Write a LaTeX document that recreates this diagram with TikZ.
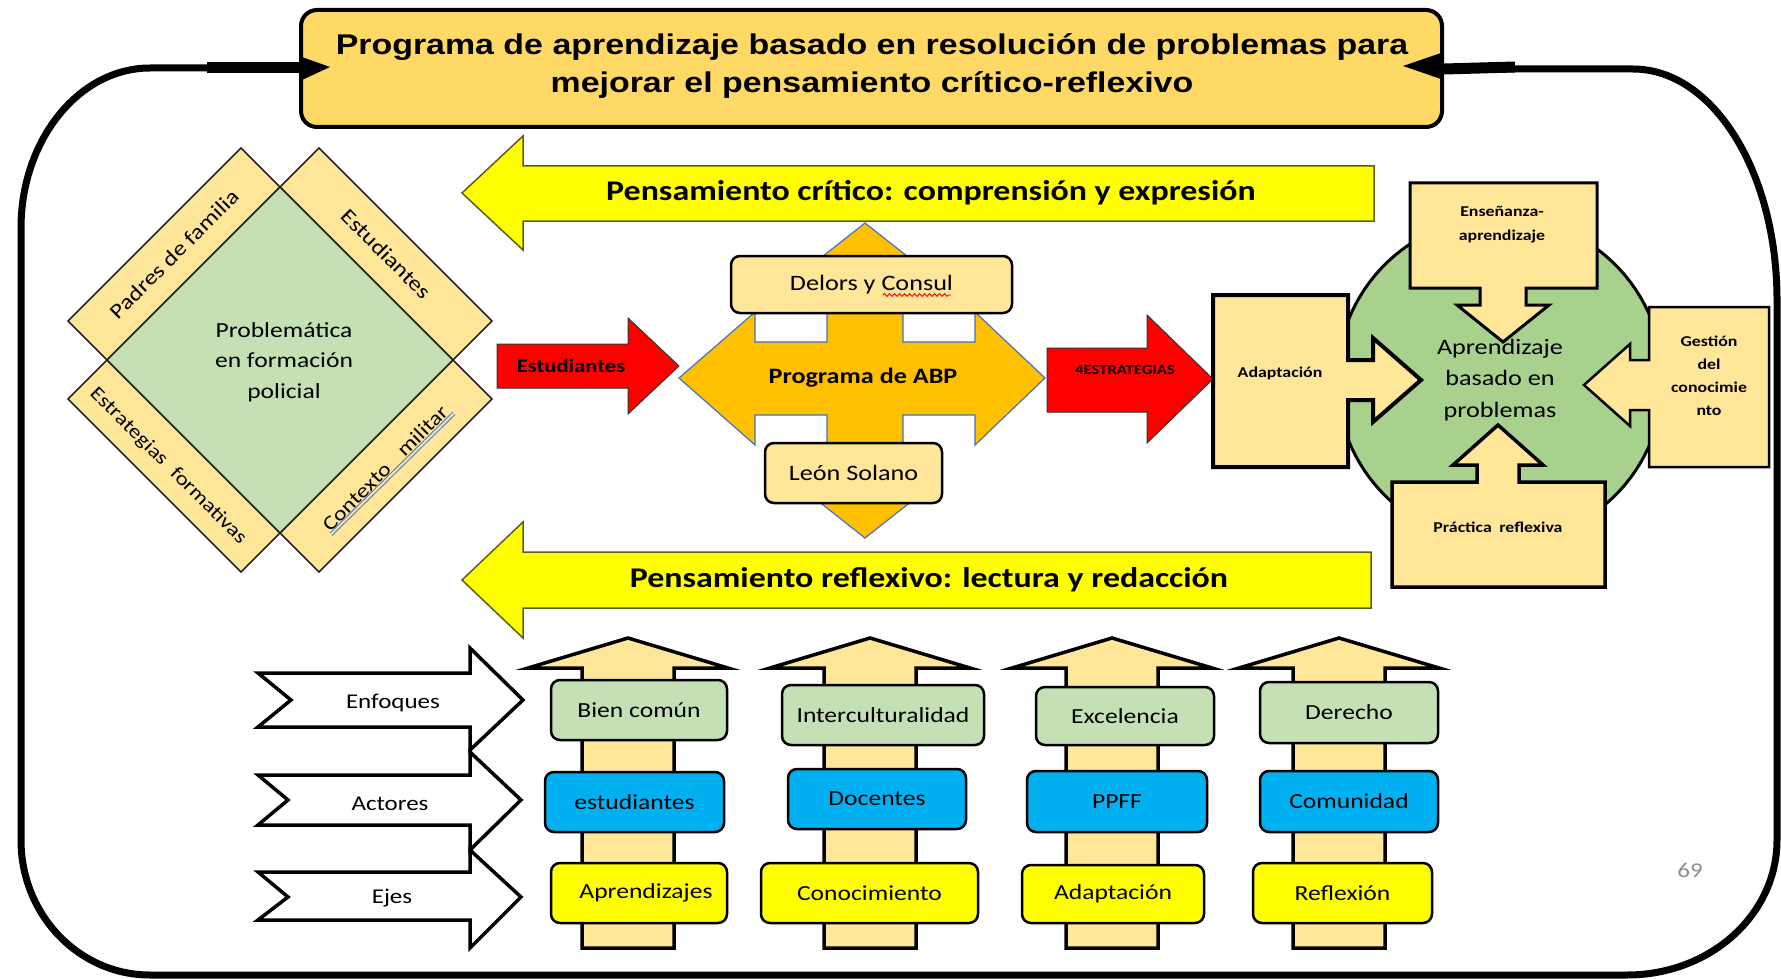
\documentclass[tikz,border=0pt]{standalone}
\usepackage{fontspec}
\setmainfont{Carlito}[FakeStretch=1.19]
\newfontfamily\titlefont{Liberation Sans}[FakeStretch=1.19]
\usetikzlibrary{decorations.pathmorphing}
\definecolor{titlefill}{HTML}{FFD966}
\definecolor{tanf}{HTML}{FFE699}
\definecolor{lgreen}{HTML}{C5E0B4}
\definecolor{mgreen}{HTML}{A9D18E}
\definecolor{cyanb}{HTML}{00B0F0}
\definecolor{yel}{HTML}{FFFF00}
\definecolor{orng}{HTML}{FFC000}
\definecolor{redd}{HTML}{FF0000}
\definecolor{olivec}{HTML}{5E5E1A}
\definecolor{quadblue}{HTML}{4472C4}
\definecolor{spellblue}{HTML}{5B7FD0}
\begin{document}
\begin{tikzpicture}[x=1pt,y=-1pt,line join=miter,
  lbl/.style={inner sep=0pt,outer sep=0pt,align=center,text=black},
  frameline/.style={draw=black,line width=7pt},
  stripshape/.style={fill=tanf,draw=black!85,line width=1.5pt},
  yarrow/.style={fill=yel,draw=olivec,line width=1.5pt},
  rarrow/.style={fill=redd,draw=black!80,line width=1pt},
  callout/.style={fill=tanf,draw=black,line width=3pt},
  uparrow/.style={fill=tanf,draw=black,line width=3.5pt},
  notched/.style={fill=white,draw=black,line width=3.5pt},
  rbox/.style={draw=black,line width=2.5pt,rounded corners=9pt,inner sep=0pt,align=center,font=\fontsize{21.5}{26}\selectfont},
  tbox/.style={rbox,fill=tanf,font=\fontsize{22}{26}\selectfont},
  small/.style={lbl,font=\bfseries\fontsize{15}{23}\selectfont},
]
\useasboundingbox (0,0) rectangle (1781,979);

% ---------- title ----------
\node[draw=black,line width=4pt,fill=titlefill,rounded corners=16pt,minimum width=1141pt,minimum height=117pt,inner sep=0pt] (title) at (871.5,68.5) {};
\node[lbl,anchor=base,font=\titlefont\bfseries\fontsize{28.5}{34}\selectfont] (title1) at (872,55) {Programa de aprendizaje basado en resolución de problemas para};
\node[lbl,anchor=base,font=\titlefont\bfseries\fontsize{28.5}{34}\selectfont] (title2) at (872,93) {mejorar el pensamiento crítico-reflexivo};

% ---------- outer frame (connector from title back to title) ----------
\coordinate (fl) at (title.west |- 0,68);
\coordinate (fr) at (title.east |- 0,69);
\coordinate (fls) at (207,68);
\coordinate (frs) at (1515,67);
\draw[frameline] (fl) -- (150,68) .. controls (79,68) and (21,140) .. (21,228) -- (21,840)
  .. controls (21,915) and (79,975) .. (150,975) -- (1627,975)
  .. controls (1710,975) and (1777,915) .. (1777,840) -- (1777,300)
  .. controls (1777,172) and (1713,69) .. (1633,69) -- (fr);
\draw[line width=11pt] (fls) -- (fl);
\draw[line width=11pt] (frs) -- (fr);
\fill[black] (fl) ++(0,-12) -- (330,67) -- (302,80) -- cycle;
\fill[black] (1441,53) -- (1403,66) -- (1441,79) -- cycle;

% ---------- diamond ----------
\draw[stripshape] (280,187) -- (107,360) -- (68,321) -- (241,148) -- cycle;
\draw[stripshape] (280,187) -- (453,360) -- (492,321) -- (319,148) -- cycle;
\draw[stripshape] (107,360) -- (280,533) -- (241,572) -- (68,399) -- cycle;
\draw[stripshape] (453,360) -- (280,533) -- (319,572) -- (492,399) -- cycle;
\draw[fill=lgreen,draw=black!85,line width=1.5pt] (280,187) -- (453,360) -- (280,533) -- (107,360) -- cycle;
\node[lbl,font=\fontsize{21.5}{30.5}\selectfont] (prob) at (284,362) {Problemática\\en formación\\policial};
\node[lbl,rotate=45,font=\fontsize{21}{25}\selectfont] (padres) at (174,254) {Padres de familia};
\node[lbl,rotate=-45,font=\fontsize{21}{25}\selectfont] (estud) at (386,254) {Estudiantes};
\node[lbl,rotate=-45,font=\fontsize{19.5}{25}\selectfont] (estrat) at (168,466) {Estrategias\hspace{0.6em}formativas};
\node[lbl,rotate=45,font=\fontsize{20}{25}\selectfont] (contexto) at (385,468) {Contexto\hspace{0.9em}militar};
\draw[spellblue,line width=1pt] (330,533) -- (453,412);
\draw[spellblue,line width=1pt] (332,535.5) -- (455,414.5);

% ---------- yellow arrows ----------
\draw[yarrow] (1374,166) -- (523,166) -- (523,136) -- (462,193) -- (523,250) -- (523,221) -- (1374,221) -- cycle;
\node[lbl,font=\bfseries\fontsize{28.5}{34}\selectfont] (ycrit) at (931,193) {Pensamiento crítico: comprensión y expresión};
\draw[yarrow] (1371,552) -- (523,552) -- (523,522) -- (462,580) -- (523,638) -- (523,608) -- (1371,608) -- cycle;
\node[lbl,font=\bfseries\fontsize{28.5}{34}\selectfont] (yrefl) at (929,580) {Pensamiento reflexivo: lectura y redacción};

% ---------- quad arrow ----------
\draw[fill=orng,draw=quadblue,line width=1.2pt]
 (865,223) -- (931,275) -- (903,275) -- (903,342) -- (975,342) -- (975,312) -- (1045,378)
 -- (975,445) -- (975,415) -- (903,415) -- (903,486) -- (931,486) -- (865,538)
 -- (799,486) -- (827,486) -- (827,415) -- (755,415) -- (755,445) -- (679,378)
 -- (755,312) -- (755,342) -- (827,342) -- (827,275) -- (799,275) -- cycle;
\node[lbl,font=\bfseries\fontsize{22}{26}\selectfont] (abp) at (863,378) {Programa de ABP};
\node[tbox,minimum width=281pt,minimum height=57pt] (delors) at (871.5,284.5) {Delors y Consul};
\draw[redd,line width=0.9pt,decorate,decoration={snake,amplitude=1.4pt,segment length=5pt}] (883,295) -- (951,295);
\node[tbox,minimum width=177pt,minimum height=60pt] (leon) at (853.5,473) {León Solano};

% ---------- red arrows ----------
\draw[rarrow] (497,344) -- (628,344) -- (628,318) -- (679,366) -- (628,414) -- (628,388) -- (497,388) -- cycle;
\node[lbl,font=\bfseries\fontsize{19}{22}\selectfont] (restud) at (571,366) {Estudiantes};
\draw[rarrow] (1047,348) -- (1147,348) -- (1147,315) -- (1213,379) -- (1147,443) -- (1147,412) -- (1047,412) -- cycle;
\node[lbl,font=\bfseries\fontsize{14}{16}\selectfont] (restr) at (1125,370) {4ESTRATEGIAS};

% ---------- right group ----------
\draw[fill=mgreen,draw=black,line width=3pt] (1500,380) circle[radius=163pt];
\draw[callout] (1410,183) -- (1597,183) -- (1597,288) -- (1526,288) -- (1526,305) -- (1549,305) -- (1503,342)
  -- (1457,305) -- (1480,305) -- (1480,288) -- (1410,288) -- cycle;
\draw[callout,line width=4pt] (1213,295) -- (1348,295) -- (1348,360) -- (1373,360) -- (1373,338) -- (1421,380)
  -- (1373,422) -- (1373,400) -- (1348,400) -- (1348,467) -- (1213,467) -- cycle;
\draw[callout,line width=2.5pt] (1769,307) -- (1769,467) -- (1649,467) -- (1649,410) -- (1630,410) -- (1630,426)
  -- (1584,385) -- (1630,344) -- (1630,360) -- (1649,360) -- (1649,307) -- cycle;
\draw[callout,line width=3.5pt] (1392,587) -- (1392,482) -- (1477,482) -- (1477,465) -- (1453,465) -- (1498,425)
  -- (1543,465) -- (1519,465) -- (1519,482) -- (1605,482) -- (1605,587) -- cycle;
\node[lbl,font=\fontsize{22}{31.5}\selectfont] (abpc) at (1500,380) {Aprendizaje\\basado en\\problemas};
\node[small,font=\bfseries\fontsize{15}{24}\selectfont] (ensen) at (1502,225) {Enseñanza-\\aprendizaje};
\node[small] (adapt) at (1280,373) {Adaptación};
\node[small] (gest) at (1709,376) {Gestión\\del\\conocimie\\nto};
\node[small] (pract) at (1498,527) {Práctica\hspace{0.5em}reflexiva};

% ---------- notched arrows ----------
\draw[notched] (258,673) -- (470,673) -- (470,648) -- (523,700) -- (470,750) -- (470,727) -- (258,727) -- (291,700) -- cycle;
\draw[notched] (258,775) -- (470,775) -- (470,752) -- (521,800) -- (470,850) -- (470,825) -- (258,825) -- (288,800) -- cycle;
\draw[notched] (258,872) -- (470,872) -- (470,850) -- (521,897) -- (470,948) -- (470,920) -- (258,920) -- (288,897) -- cycle;
\node[lbl,font=\fontsize{21}{25}\selectfont] (enf) at (393,703) {Enfoques};
\node[lbl,font=\fontsize{21}{25}\selectfont] (act) at (390,804) {Actores};
\node[lbl,font=\fontsize{21}{25}\selectfont] (ejes) at (392,898) {Ejes};

% ---------- vertical arrows ----------
\foreach \cx in {628,870,1112,1339}{
  \draw[uparrow] (\cx-46,948) -- (\cx-46,668) -- (\cx-100,668) -- (\cx,638) -- (\cx+100,668) -- (\cx+46,668) -- (\cx+46,948) -- cycle;
}

% ---------- boxes ----------
\node[rbox,fill=lgreen,minimum width=176pt,minimum height=60pt] (b11) at (639,710) {Bien común};
\node[rbox,fill=lgreen,minimum width=202pt,minimum height=60pt] (b12) at (883,715) {Interculturalidad};
\node[rbox,fill=lgreen,minimum width=178pt,minimum height=58pt] (b13) at (1125,716) {Excelencia};
\node[rbox,fill=lgreen,minimum width=178pt,minimum height=61pt] (b14) at (1349,712.5) {Derecho};
\node[rbox,fill=cyanb,minimum width=179pt,minimum height=60pt] (b21) at (634.5,802) {estudiantes};
\node[rbox,fill=cyanb,minimum width=178pt,minimum height=60pt] (b22) at (877,799) {Docentes};
\node[rbox,fill=cyanb,minimum width=180pt,minimum height=61pt] (b23) at (1117,801.5) {PPFF};
\node[rbox,fill=cyanb,minimum width=178pt,minimum height=61pt] (b24) at (1349,801.5) {Comunidad};
\node[rbox,fill=yel,minimum width=176pt,minimum height=60pt] (b31) at (639,893) {\hspace{14pt}Aprendizajes};
\node[rbox,fill=yel,minimum width=217pt,minimum height=60pt] (b32) at (869.5,893) {Conocimiento};
\node[rbox,fill=yel,minimum width=182pt,minimum height=58pt] (b33) at (1113,894) {Adaptación};
\node[rbox,fill=yel,minimum width=179pt,minimum height=60pt] (b34) at (1342.5,893) {Reflexión};

\node[lbl,text=black!45,font=\fontsize{21}{25}\selectfont] (pnum) at (1690,870) {69};
\end{tikzpicture}
\end{document}
